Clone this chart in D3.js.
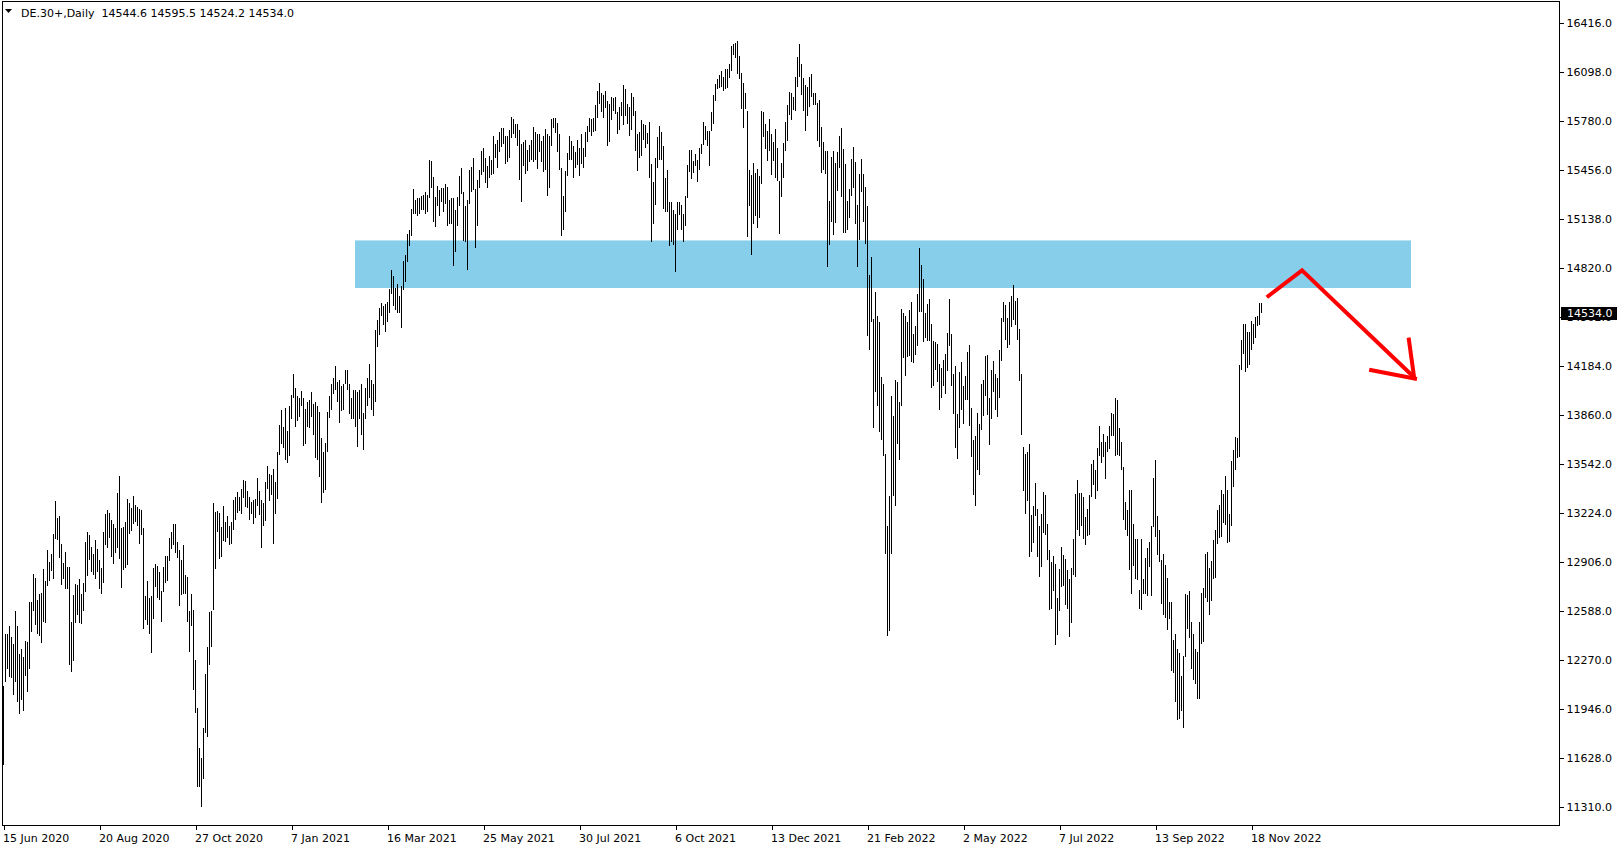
<!DOCTYPE html>
<html><head><meta charset="utf-8">
<script src="https://cdn.jsdelivr.net/npm/d3@7"></script>
<style>html,body{margin:0;padding:0;background:#fff;overflow:hidden}</style>
</head><body>
<svg id="c" width="1624" height="850" xmlns="http://www.w3.org/2000/svg"></svg>
<script>
// ---------------- DATA ----------------
const symbolTitle = "DE.30+,Daily";
const lastBar = [14544.6, 14595.5, 14524.2, 14534.0]; // open high low close
const highs = [
12098,12437,12437,12489,12420,12372,12585,12489,12307,12337,
12290,12390,12385,12646,12646,12828,12802,12659,12698,12702,
12859,12785,12985,12907,12959,13089,13302,13193,13206,13024,
12898,12972,12872,12872,12516,12689,12763,12755,12798,12698,
12768,13033,13098,13080,13006,12959,13050,12989,12920,12867,
13102,13219,13245,13224,13180,13154,13124,13358,13463,13124,
13132,13163,13315,13293,13258,13337,13280,13267,13250,13245,
13128,12681,12781,12668,12685,12867,12893,12880,12841,12715,
12872,12946,12946,13059,13098,13154,13150,13037,12985,12920,
13015,12824,12811,12585,12698,12594,12268,11955,11694,11629,
11825,12177,12355,12581,12589,13293,13232,13237,13224,13132,
13271,13163,13206,13141,13163,13311,13332,13363,13332,13384,
13441,13432,13367,13332,13298,13311,13319,13454,13371,13311,
13289,13428,13530,13480,13470,13510,13428,13620,13800,13897,
13788,13910,13762,13923,13992,14127,14040,13988,13971,14018,
13975,13905,13949,13958,14014,13936,13945,13923,13884,13710,
13619,13680,13880,13984,14062,14105,14184,14079,14092,14049,
14066,14153,14153,14066,13971,14023,14027,14010,14023,14066,
13875,14036,14101,14197,14092,14066,14414,14479,14561,14592,
14570,14587,14601,14683,14805,14766,14692,14718,14635,14705,
14866,14905,15044,15065,15204,15335,15261,15274,15278,15291,
15296,15318,15296,15526,15517,15413,15283,15352,15331,15344,
15339,15370,15348,15261,15278,15274,15200,15283,15422,15474,
15318,15226,15265,15461,15478,15539,15335,15396,15461,15582,
15604,15539,15487,15548,15526,15682,15630,15656,15709,15735,
15730,15678,15682,15722,15804,15791,15761,15761,15722,15630,
15643,15652,15591,15622,15656,15739,15709,15696,15696,15648,
15682,15726,15696,15682,15791,15800,15800,15765,15691,15474,
15291,15455,15570,15683,15648,15618,15579,15653,15605,15696,
15600,15705,15748,15800,15792,15796,15883,15970,16026,15957,
15944,15970,15909,15887,15935,15926,15935,15839,15870,15900,
16009,15983,15891,15870,15961,15931,15844,15696,15705,15787,
15761,15752,15700,15774,15496,15379,15535,15674,15744,15705,
15613,15409,15457,15253,15248,15196,15175,15248,15253,15231,
15170,15288,15488,15587,15587,15514,15566,15522,15600,15627,
15770,15744,15715,15711,15837,15950,16020,16054,16080,16102,
16067,16115,16119,16146,16263,16280,16285,16298,16202,16093,
16028,15963,15846,15459,15429,15507,15437,15463,15420,15846,
15837,15755,15711,15794,15694,15642,15724,15603,15390,15503,
15633,15768,15885,15967,15959,15933,16063,16193,16276,16150,
16059,16011,15998,16067,16085,15963,15959,15894,15915,15737,
15640,15581,15581,15259,15546,15581,15507,15576,15681,15733,
15598,15498,15257,15336,15531,15609,15509,15231,15431,15531,
15431,15349,15227,14775,14892,14488,14667,14510,14471,14110,
14067,13607,13142,13337,13989,13854,14093,14080,13946,14554,
14528,14510,14471,14545,14601,14393,14445,14649,14949,14840,
14749,14528,14588,14619,14458,14345,14341,14323,14197,14167,
14223,14263,14397,14619,14393,14128,14184,13872,14141,14210,
14050,14119,14276,14319,13906,13698,13724,13876,13806,14063,
14093,14245,14253,13975,14153,14214,14131,14101,14288,14496,
14601,14579,14496,14601,14640,14709,14605,14627,14423,14131,
13654,13606,13623,13675,13211,13271,13423,13254,13137,13215,
13363,13341,13154,12985,12906,12946,12893,12672,12863,13006,
12954,12928,12854,12798,12867,13058,13350,13441,13358,13358,
13332,13197,13254,13345,13545,13567,13502,13645,13793,13688,
13741,13688,13723,13793,13875,13867,13971,13962,13780,13684,
13523,13297,13242,13376,13376,13155,13055,13055,12725,13055,
12794,12929,12994,13038,13137,13450,13572,13203,13116,12916,
12959,12885,12803,12642,12642,12395,12438,12342,12316,12160,
12295,12694,12690,12716,12512,12434,12338,12321,12516,12703,
12738,12959,12968,12868,12912,13046,13116,13242,13276,13376,
13346,13468,13376,13220,13563,13633,13720,13715,14189,14354,
14454,14458,14406,14406,14475,14454,14501,14506,14593,14595.5
];
const lows = [
11586,12125,12207,12159,12151,12042,12125,11994,11916,12007,
11933,12164,12059,12207,12450,12589,12498,12437,12424,12381,
12516,12511,12750,12785,12850,12794,13054,13050,12933,12759,
12798,12733,12733,12238,12190,12264,12507,12559,12507,12503,
12589,12711,12815,12920,12841,12820,12794,12841,12733,12698,
12772,13015,12998,13059,12937,12893,12963,12998,12928,12737,
12854,12867,12885,13089,13106,13150,13167,13141,13024,13080,
12472,12529,12498,12437,12316,12537,12741,12672,12659,12516,
12707,12772,12785,12915,12993,13015,12963,12933,12620,12689,
12698,12698,12516,12320,12490,12072,11925,11438,11438,11312,
11495,11794,11768,12237,12355,12594,12863,13102,12924,12937,
13041,13037,13059,13019,13024,13111,13176,13224,13237,13215,
13324,13263,13258,13176,13215,13150,13189,13271,13211,12998,
13137,13172,13380,13300,13340,13024,13215,13319,13600,13675,
13645,13571,13549,13597,13840,13971,13788,13827,13853,13923,
13658,13675,13788,13780,13853,13732,13584,13571,13462,13293,
13354,13376,13619,13845,13893,13997,14027,13945,13814,13888,
13897,14062,14023,13871,13840,13840,13788,13654,13840,13736,
13632,13840,13919,13971,13893,13858,13949,14305,14383,14509,
14448,14401,14470,14527,14653,14570,14548,14527,14527,14427,
14679,14727,14857,14961,15026,15174,15170,15157,15170,15200,
15200,15174,15187,15274,15344,15118,15087,15226,15161,15252,
15187,15239,15092,15105,15109,14831,14922,15092,15226,15304,
14996,14992,14805,15239,15313,15326,14948,15092,15339,15426,
15448,15374,15339,15404,15426,15435,15539,15470,15574,15609,
15630,15496,15509,15539,15665,15695,15665,15613,15396,15252,
15487,15430,15452,15509,15526,15509,15526,15465,15578,15513,
15444,15457,15287,15339,15613,15730,15700,15574,15457,15026,
15070,15183,15422,15527,15527,15405,15470,15488,15422,15496,
15474,15544,15644,15709,15683,15709,15713,15800,15891,15839,
15796,15861,15613,15644,15787,15844,15826,15692,15718,15809,
15752,15813,15757,15679,15718,15813,15583,15453,15540,15553,
15657,15605,15631,15405,14992,15105,15231,15470,15527,15527,
15205,15188,15183,14962,14992,14970,14792,15066,15166,15070,
14988,15092,15275,15444,15401,15440,15483,15379,15461,15561,
15622,15653,15616,15485,15711,15755,15907,15985,15993,16002,
15976,15985,15993,16059,16106,16206,16185,16085,16054,15854,
15733,15854,15020,15225,14903,15107,15159,15081,15146,15368,
15672,15594,15520,15581,15424,15520,15407,15390,15042,15285,
15407,15585,15650,15815,15785,15850,15846,15998,16063,15950,
15846,15711,15811,15872,15933,15881,15885,15650,15611,15437,
15460,15430,14829,14968,15120,15033,15112,15324,15472,15281,
15046,15046,15066,15149,15288,15344,15105,14827,15001,15314,
15123,14975,14380,14289,14467,13780,14011,13924,13750,13698,
13598,12955,12421,12455,12959,13333,13268,13672,13568,13919,
14237,14115,14241,14245,14206,14202,14254,14310,14536,14536,
14336,14367,14345,14345,14037,14050,14154,14076,13893,13971,
14050,14002,14150,14315,14054,13867,13646,13576,13776,13893,
13802,13963,13963,13789,13589,13342,13268,13502,13472,13763,
13854,13985,13862,13667,13840,14010,13893,13853,13971,14214,
14470,14349,14301,14318,14436,14479,14449,14349,14084,13736,
13371,13215,13302,12941,12972,13032,13202,12941,12811,12876,
13093,13080,12920,12594,12602,12720,12363,12433,12589,12746,
12750,12628,12598,12416,12511,12820,12806,13111,13076,13137,
13058,13019,13076,13080,13328,13410,13319,13371,13597,13549,
13588,13445,13619,13641,13728,13723,13597,13602,13597,13502,
13176,13111,13072,12851,12694,12877,12794,12790,12599,12590,
12694,12694,12686,12872,12686,13133,13068,12951,12903,12629,
12560,12542,12464,12534,12195,12182,11995,11878,11882,11934,
11826,12286,12468,12408,12208,12134,12108,12012,12012,12373,
12382,12673,12642,12560,12651,12794,12799,13025,13064,13068,
13159,13146,13029,13033,13137,13394,13502,13581,13589,14158,
14258,14141,14167,14189,14284,14328,14362,14445,14449,14524.2
];
const xTickLabels = ["15 Jun 2020","20 Aug 2020","27 Oct 2020","7 Jan 2021","16 Mar 2021","25 May 2021","30 Jul 2021","6 Oct 2021","13 Dec 2021","21 Feb 2022","2 May 2022","7 Jul 2022","13 Sep 2022","18 Nov 2022"];
const xTickBars = [0,48,96,144,192,240,288,336,384,432,480,528,576,624];
const yTickValues = [16416,16098,15780,15456,15138,14820,14502,14184,13860,13542,13224,12906,12588,12270,11946,11628,11310];
// drawn objects (bar index, price)
const zoneBars = [176, 704];
const zonePrices = [14690, 15000];
const arrowLine = [[631.9,14630],[649.5,14805],[705.9,14104]];
const arrowHeadA = [[702.8,14367],[705.6,14104]];
const arrowHeadB = [[683.1,14158],[707.0,14098]];

// ---------------- DRAW ----------------
const svg = d3.select("#c");
const W = 1624, H = 850;
const plot = {left: 2, top: 1, right: 1560, bottom: 826};
const FONT = "'DejaVu Sans', sans-serif";

svg.append("rect").attr("width", W).attr("height", H).attr("fill", "#fff");

const x = d3.scaleLinear().domain([0, 1]).range([3, 5]);
const y = d3.scaleLinear().domain([11310, 16416]).range([807, 23]);

// zone
svg.append("rect")
  .attr("x", x(zoneBars[0])).attr("y", y(zonePrices[1]))
  .attr("width", x(zoneBars[1]) - x(zoneBars[0]))
  .attr("height", y(zonePrices[0]) - y(zonePrices[1]))
  .attr("fill", "#87CEEB");

// bars
const data = highs.map((h, i) => ({i, h, l: lows[i]}));
svg.append("g").attr("shape-rendering", "crispEdges")
  .selectAll("rect").data(data).join("rect")
  .attr("x", d => x(d.i))
  .attr("y", d => Math.round(y(d.h)))
  .attr("width", 1)
  .attr("height", d => Math.max(1, Math.round(y(d.l)) - Math.round(y(d.h))))
  .attr("fill", "#000");

// arrow
const line = d3.line().x(d => x(d[0])).y(d => y(d[1]));
[arrowLine, arrowHeadA, arrowHeadB].forEach(pts => {
  svg.append("path").attr("d", line(pts)).attr("fill", "none")
    .attr("stroke", "#ff0000").attr("stroke-width", 4)
    .attr("stroke-linejoin", "miter").attr("stroke-linecap", "butt");
});

// frame
svg.append("rect")
  .attr("x", plot.left + 0.5).attr("y", plot.top + 0.5)
  .attr("width", plot.right - plot.left - 1).attr("height", plot.bottom - plot.top - 1)
  .attr("fill", "none").attr("stroke", "#000").attr("stroke-width", 1)
  .attr("shape-rendering", "crispEdges");

// right axis
const yAxis = d3.axisRight(y).tickValues(yTickValues).tickFormat(d => d.toFixed(1)).tickSize(4).tickPadding(3);
const gy = svg.append("g").attr("transform", `translate(${plot.right - 0.5},0)`).call(yAxis);
gy.select(".domain").remove();
gy.selectAll("line").attr("stroke", "#000").attr("shape-rendering", "crispEdges");
gy.selectAll("text").attr("font-family", FONT).attr("font-size", 11).attr("fill", "#000");

// bottom axis
const xAxis = d3.axisBottom(x).tickValues(xTickBars).tickFormat((d, i) => xTickLabels[i]).tickSize(4).tickPadding(5);
const gx = svg.append("g").attr("transform", `translate(0.5,${plot.bottom - 0.5})`).call(xAxis);
gx.select(".domain").remove();
gx.selectAll("line").attr("stroke", "#000").attr("shape-rendering", "crispEdges");
gx.selectAll("text").attr("font-family", FONT).attr("font-size", 11).attr("fill", "#000")
  .attr("text-anchor", "start").attr("dx", -1);

// current price label
const cy = y(lastBar[3]);
svg.append("rect").attr("x", plot.right + 1).attr("y", Math.round(cy) - 5)
  .attr("width", 56).attr("height", 13).attr("fill", "#000").attr("shape-rendering", "crispEdges");
svg.append("text").attr("x", plot.right + 7).attr("y", cy + 2).attr("dy", "0.32em")
  .attr("font-family", FONT).attr("font-size", 11).attr("fill", "#fff")
  .text(lastBar[3].toFixed(1));

// title
svg.append("path").attr("d", "M5,9 L12,9 L8.5,13 Z").attr("fill", "#000");
svg.append("text").attr("x", 21).attr("y", 16.5)
  .attr("font-family", FONT).attr("font-size", 11).attr("fill", "#000")
  .style("white-space", "pre")
  .text(symbolTitle + "  " + lastBar.map(v => v.toFixed(1)).join(" "));
</script>
</body></html>
